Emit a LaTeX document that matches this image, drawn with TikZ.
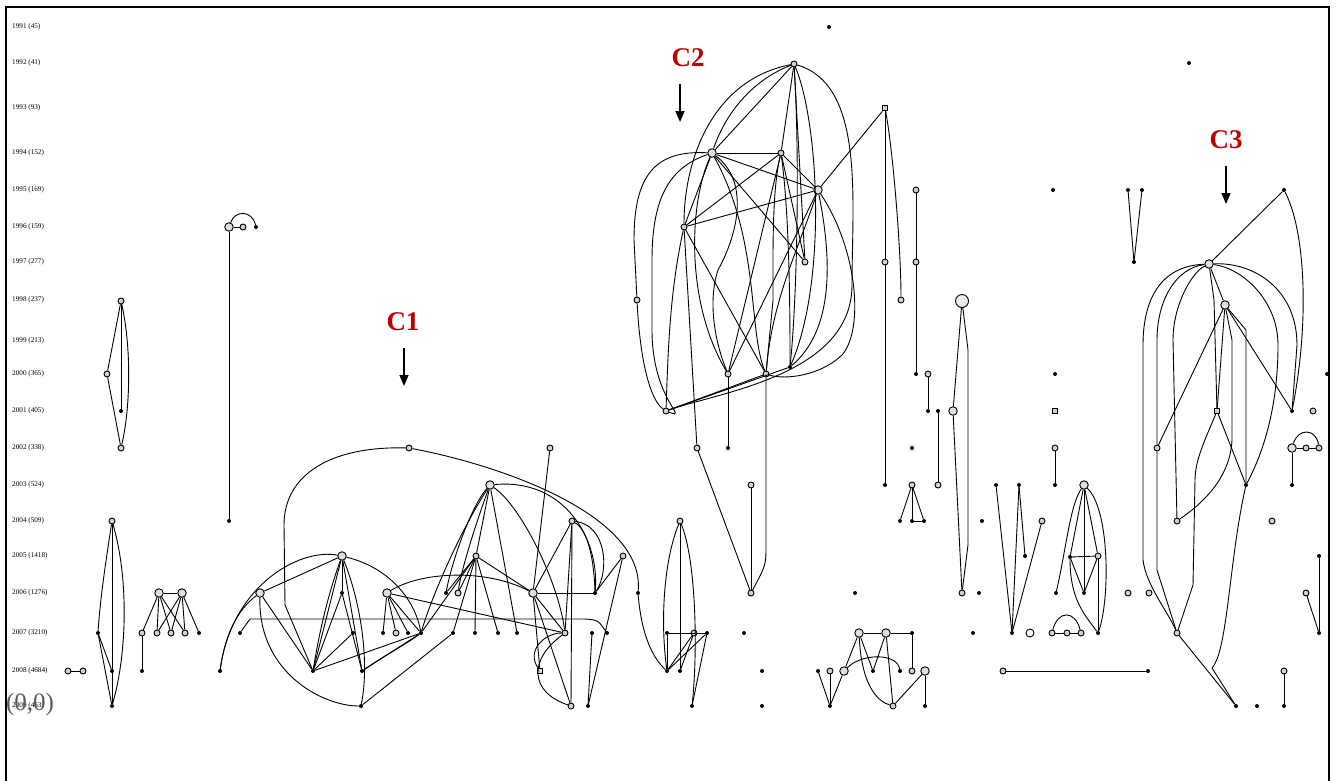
\documentclass[tikz,border=0pt]{standalone}
\usepackage{fontspec}
\setmainfont{Liberation Serif}
\usetikzlibrary{arrows.meta}
\definecolor{cred}{RGB}{192,0,0}
\begin{document}
\begin{tikzpicture}[x=1pt,y=-1pt,
  nd/.style={circle,draw,fill=gray!35,inner sep=0pt,minimum size=6pt,line width=0.9pt},
  bn/.style={circle,draw,fill=gray!25,inner sep=0pt,minimum size=8.5pt,line width=0.9pt},
  dt/.style={circle,fill=black,inner sep=0pt,minimum size=4pt},
  ed/.style={line width=0.9pt},
  yr/.style={font=\fontsize{7.2}{8}\selectfont,anchor=west,inner sep=0pt},
  clab/.style={font=\fontsize{27}{30}\selectfont\bfseries,text=cred,inner sep=0pt},
  carrow/.style={line width=1.6pt,-{Triangle[width=9pt,length=11pt]}}]
\useasboundingbox (0,0) rectangle (1336,780);
\draw[line width=1.5pt] (6,785) -- (6,7) -- (1329,7) -- (1329,785);

% year labels
\foreach \yy/\lab [count=\i] in {27/1991 (45),63/1992 (41),108/1993 (93),153/1994 (152),190/1995 (169),227/1996 (159),262/1997 (277),300/1998 (237),341/1999 (213),374/2000 (365),411/2001 (405),448/2002 (338),485/2003 (524),521/2004 (509),556/2005 (1418),593/2006 (1276),633/2007 (3210),671/2008 (4684),706/2009 (453)}
  \node[yr] (yl\i) at (12,\yy) {\lab};
\node[font=\fontsize{25}{27}\selectfont,text=black!65,inner sep=0pt] (orig) at (30,704) {(0,0)};

% cluster labels
\node[clab] (C1) at (403,322) {C1};
\coordinate (c1a) at (404,348); \coordinate (c1b) at (404,386);
\draw[carrow] (c1a) -- (c1b);
\node[clab] (C2) at (688,58) {C2};
\coordinate (c2a) at (680,84); \coordinate (c2b) at (680,122);
\draw[carrow] (c2a) -- (c2b);
\node[clab] (C3) at (1226,140) {C3};
\coordinate (c3a) at (1226,166); \coordinate (c3b) at (1226,204);
\draw[carrow] (c3a) -- (c3b);

% ---------- left groups ----------
\node[nd] (l1) at (121,301) {};
\node[nd] (l2) at (107,374) {};
\node[dt] (l3) at (121,411) {};
\node[nd] (l4) at (121,448) {};
\draw[ed] (l1) -- (l2); \draw[ed] (l2) -- (l4); \draw[ed] (l1) -- (l3);
\draw[ed] (l1) .. controls (131,345) and (131,405) .. (l4);
\node[bn] (v1) at (229,227) {};
\node[nd] (v2) at (243,227) {};
\node[dt] (v3) at (256,227) {};
\node[dt] (v4) at (229,521) {};
\draw[ed] (v1) -- (v4); \draw[ed] (v1) -- (v2);
\draw[ed] (v1) .. controls (235,210) and (252,210) .. (v3);
\node[nd] (m1) at (112,521) {};
\node[dt] (m2) at (98,633) {};
\node[dt] (m3) at (112,671) {};
\node[dt] (m4) at (112,706) {};
\draw[ed] (m1) -- (m4);
\draw[ed] (m1) .. controls (106,560) and (100,600) .. (m2);
\draw[ed] (m2) -- (m4); \draw[ed] (m2) -- (m3);
\draw[ed] (m1) .. controls (128,575) and (128,650) .. (m4);
\node[nd] (p1) at (68,671) {};
\node[nd] (p2) at (83,671) {};
\draw[ed] (p1) -- (p2);
\node[bn] (q1) at (159,593) {};
\node[bn] (q2) at (182,593) {};
\node[nd] (r1) at (142,633) {};
\node[nd] (r2) at (157,633) {};
\node[nd] (r3) at (171,633) {};
\node[nd] (r4) at (185,633) {};
\node[dt] (r5) at (199,633) {};
\node[dt] (r6) at (142,671) {};
\draw[ed] (q1) -- (q2); \draw[ed] (r1) -- (r6);
\foreach \t in {r1,r2,r3,r4} \draw[ed] (q1) -- (\t);
\foreach \t in {r2,r3,r4,r5} \draw[ed] (q2) -- (\t);

% ---------- C1 ----------
\node[nd] (c0) at (409,448) {};
\node[bn] (a1) at (342,556) {};
\node[bn] (a2) at (260,593) {};
\node[dt] (a3) at (342,593) {};
\node[bn] (a4) at (387,593) {};
\node[dt] (s1) at (220,671) {};
\node[dt] (s2) at (240,633) {};
\node[dt] (u1) at (313,671) {};
\node[dt] (u2) at (362,671) {};
\node[dt] (u3) at (361,706) {};
\node[dt] (w1) at (353,633) {};
\node[dt] (w2) at (383,633) {};
\node[nd] (w3) at (396,633) {};
\node[dt] (w4) at (408,633) {};
\node[dt] (w5) at (421,633) {};
\node[dt] (w6) at (453,633) {};
\node[dt] (w7) at (475,633) {};
\node[dt] (w8) at (498,633) {};
\node[dt] (w9) at (517,633) {};
\node[nd] (b1) at (476,556) {};
\node[bn] (b2) at (490,485) {};
\node[dt] (b3) at (446,593) {};
\node[nd] (b4) at (458,593) {};
\node[nd] (e1) at (550,448) {};
\node[nd] (e2) at (572,521) {};
\node[bn] (e3) at (533,593) {};
\node[dt] (e4) at (595,593) {};
\node[nd] (e5) at (623,556) {};
\node[dt] (e6) at (638,593) {};
\node[nd] (x1) at (565,633) {};
\node[dt] (x2) at (592,633) {};
\node[dt] (x3) at (607,633) {};
\node[nd,rectangle,minimum size=5.5pt] (y1) at (540,671) {};
\node[nd] (y2) at (571,706) {};
\node[dt] (y3) at (588,706) {};

\draw[ed] (c0) .. controls (330,446) and (284,475) .. (284,525) -- (285,605) -- (u1);
\draw[ed] (c0) .. controls (500,465) and (645,515) .. (e6);
\draw[ed] (s1) .. controls (232,585) and (300,548) .. (a1);
\draw[ed] (s1) .. controls (226,628) and (242,606) .. (a2);
\draw[ed] (s2) -- (250,619) -- (585,619) .. controls (598,620) .. (x3);
\draw[ed] (a2) -- (a1);
\draw[ed] (a2) -- (u1);
\draw[ed] (a2) .. controls (258,672) and (322,706) .. (u3);
\draw[ed] (a1) -- (u1);
\draw[ed] (a1) .. controls (326,600) and (318,640) .. (u1);
\draw[ed] (a1) -- (a3);
\draw[ed] (a1) -- (u2);
\draw[ed] (a1) .. controls (360,600) and (370,660) .. (u3);
\draw[ed] (a1) .. controls (390,568) and (415,600) .. (w5);
\draw[ed] (a3) -- (u1);
\draw[ed] (a3) -- (u2);
\draw[ed] (u1) -- (w5);
\draw[ed] (u1) -- (w1);
\draw[ed] (u2) -- (w5);
\draw[ed] (u2) .. controls (385,655) and (405,645) .. (w5);
\draw[ed] (u3) -- (w6);
\foreach \t in {w2,w3,w4,w5} \draw[ed] (a4) -- (\t);
\draw[ed] (a4) -- (x1);
\draw[ed] (a4) .. controls (420,572) and (485,568) .. (e3);
\draw[ed] (b2) .. controls (472,505) and (452,560) .. (b3);
\draw[ed] (b2) .. controls (480,512) and (462,565) .. (b4);
\draw[ed] (b2) .. controls (462,528) and (432,595) .. (w5);
\draw[ed] (b2) -- (b1);
\draw[ed] (b2) -- (w9);
\draw[ed] (b2) .. controls (520,505) and (558,580) .. (x1);
\draw[ed] (b2) .. controls (565,478) and (600,540) .. (e4);
\foreach \t in {b3,b4,w5,w6,w7,w8,e3} \draw[ed] (b1) -- (\t);
\draw[ed] (e1) -- (e3);
\draw[ed] (e3) -- (e4);
\draw[ed] (e3) -- (x1);
\draw[ed] (e3) -- (y2);
\draw[ed] (e3) -- (y1);
\draw[ed] (e2) -- (e3);
\draw[ed] (e2) -- (x1);
\draw[ed] (e2) .. controls (588,530) and (594,560) .. (e4);
\draw[ed] (e2) .. controls (606,525) and (610,570) .. (e4);
\draw[ed] (e2) -- (y2);
\draw[ed] (e5) -- (e4);
\draw[ed] (e5) -- (y3);
\draw[ed] (x2) -- (y3);
\draw[ed] (y1) .. controls (526,650) and (545,633) .. (x1);
\draw[ed] (x1) .. controls (528,660) and (530,692) .. (y2);

% ---------- C2 ----------
\node[nd] (t1) at (794,64) {};
\node[nd,rectangle,minimum size=5.5pt] (t2) at (885,108) {};
\node[bn] (h1) at (712,153) {};
\node[nd] (h2) at (781,153) {};
\node[bn] (h3) at (818,190) {};
\node[nd] (h4) at (684,227) {};
\node[nd] (h5) at (805,262) {};
\node[nd] (h6) at (885,262) {};
\node[nd] (h7) at (637,300) {};
\node[nd] (h8) at (901,300) {};
\node[nd] (k1) at (728,374) {};
\node[nd] (k2) at (766,374) {};
\node[dt] (k3) at (790,367) {};
\node[nd] (k4) at (666,411) {};
\node[nd] (k5) at (697,448) {};
\node[dt] (k6) at (728,448) {};
\node[nd] (k7) at (751,485) {};
\node[nd] (k8) at (751,593) {};
\node[dt] (k9) at (885,485) {};

\draw[ed] (t1) -- (h1);
\draw[ed] (t1) .. controls (748,82) and (724,118) .. (h1);
\draw[ed] (t1) .. controls (712,80) and (684,160) .. (h4);
\draw[ed] (t1) -- (h2);
\draw[ed] (t1) -- (h5);
\draw[ed] (t1) .. controls (800,160) and (797,300) .. (k3);
\draw[ed] (t1) .. controls (818,120) and (828,280) .. (k3);
\draw[ed] (t1) .. controls (865,85) and (852,200) .. (852,285) .. controls (852,375) and (720,392) .. (k4);
\draw[ed] (h1) -- (h2);
\draw[ed] (h1) -- (h3);
\draw[ed] (h1) -- (h5);
\draw[ed] (h1) -- (h4);
\draw[ed] (h1) .. controls (655,150) and (634,175) .. (634,240) -- (h7);
\draw[ed] (h7) .. controls (640,360) and (650,400) .. (k4);
\draw[ed] (h1) .. controls (668,168) and (652,200) .. (652,260) -- (652,330) .. controls (652,400) and (690,420) .. (k4);
\draw[ed] (h1) .. controls (690,200) and (684,300) .. (k1);
\draw[ed] (h1) .. controls (748,180) and (740,230) .. (718,270) .. controls (708,300) and (714,340) .. (k1);
\draw[ed] (h1) .. controls (760,240) and (748,330) .. (k2);
\draw[ed] (h4) -- (h3);
\draw[ed] (h4) -- (h2);
\draw[ed] (h4) -- (k2);
\draw[ed] (h4) -- (k5);
\draw[ed] (h4) .. controls (670,290) and (668,350) .. (k4);
\draw[ed] (h2) -- (h3);
\draw[ed] (h2) -- (k1);
\draw[ed] (h2) -- (h5);
\draw[ed] (h2) .. controls (790,220) and (790,320) .. (k3);
\draw[ed] (h2) .. controls (772,190) and (773,250) .. (773,300) -- (k2);
\draw[ed] (h3) -- (t2);
\draw[ed] (h3) -- (k1);
\draw[ed] (h3) .. controls (832,260) and (834,330) .. (k3);
\draw[ed] (h3) .. controls (858,250) and (864,330) .. (842,355) .. controls (820,376) and (785,380) .. (k2);
\draw[ed] (h3) .. controls (798,250) and (772,300) .. (k2);
\draw[ed] (k4) -- (k2);
\draw[ed] (k4) -- (k3);
\draw[ed] (k1) -- (k6);
\draw[ed] (k2) -- (766,545) .. controls (766,565) .. (k8);
\draw[ed] (k5) -- (k8);
\draw[ed] (k7) -- (k8);
\draw[ed] (t2) -- (h6) -- (k9);
\draw[ed] (t2) .. controls (893,150) and (901,250) .. (h8);

% lower middle
\node[nd] (f0) at (680,521) {};
\node[dt] (f1) at (667,671) {};
\node[dt] (f2) at (680,671) {};
\node[dt] (f3) at (692,706) {};
\node[dt] (g1) at (667,633) {};
\node[nd] (g2) at (694,633) {};
\node[dt] (g3) at (707,633) {};
\draw[ed] (e6) .. controls (642,640) and (655,660) .. (f1);
\draw[ed] (f0) .. controls (664,560) and (660,620) .. (f1);
\draw[ed] (f0) -- (f2);
\draw[ed] (f0) .. controls (696,560) and (698,650) .. (f3);
\draw[ed] (g1) -- (g3);
\draw[ed] (g1) -- (f1);
\draw[ed] (g2) -- (f1);
\draw[ed] (g3) -- (f1);
\draw[ed] (g3) -- (f3);
\draw[ed] (g2) -- (f2);
\node[dt] (iso1) at (744,633) {};
\node[dt] (iso2) at (762,671) {};
\node[dt] (iso3) at (762,706) {};
\node[dt] (iso4) at (855,593) {};
\node[dt] (iso5) at (829,27) {};
\node[dt] (iso6) at (1189,63) {};

\node[bn] (d1) at (859,633) {};
\node[bn] (d2) at (886,633) {};
\node[dt] (d3) at (912,633) {};
\node[nd] (d4) at (912,671) {};
\node[dt] (d5) at (900,671) {};
\node[bn] (d6) at (925,671) {};
\node[nd] (d7) at (893,706) {};
\node[dt] (d8) at (925,706) {};
\node[dt] (d9) at (873,671) {};
\node[dt] (d10) at (818,671) {};
\node[nd] (d11) at (830,671) {};
\node[bn] (d12) at (844,671) {};
\node[dt] (d13) at (830,706) {};
\draw[ed] (d1) -- (d2); \draw[ed] (d2) -- (d3); \draw[ed] (d3) -- (d4);
\draw[ed] (d1) -- (d12); \draw[ed] (d1) -- (d9); \draw[ed] (d2) -- (d9);
\draw[ed] (d1) .. controls (862,690) and (880,702) .. (d7);
\draw[ed] (d2) -- (d7);
\draw[ed] (d6) -- (d7); \draw[ed] (d6) -- (d8);
\draw[ed] (d10) -- (d13); \draw[ed] (d11) -- (d13); \draw[ed] (d12) -- (d13);
\draw[ed] (d12) .. controls (862,653) and (897,653) .. (d5);

% ---------- right middle ----------
\node[nd] (i1) at (916,190) {};
\node[nd] (i2) at (916,262) {};
\node[dt] (i3) at (916,374) {};
\node[nd] (i4) at (928,374) {};
\node[dt] (i5) at (928,411) {};
\node[dt] (i6) at (938,411) {};
\node[nd] (i7) at (938,485) {};
\node[circle,draw,fill=gray!15,inner sep=0pt,minimum size=13pt,line width=0.9pt] (i8) at (962,301) {};
\node[bn] (i9) at (953,411) {};
\node[nd] (i10) at (962,593) {};
\node[dt] (i11) at (912,448) {};
\node[dt] (i12) at (1053,190) {};
\node[dt] (i13) at (1055,374) {};
\node[nd,rectangle,minimum size=5.5pt] (i14) at (1055,411) {};
\node[nd] (i15) at (1055,448) {};
\node[dt] (i16) at (1055,485) {};
\draw[ed] (i1) -- (i2) -- (i3);
\draw[ed] (i4) -- (i5);
\draw[ed] (i6) -- (i7);
\draw[ed] (i8) -- (i9) -- (i10);
\draw[ed] (i8) -- (968,350) -- (968,545) -- (i10);
\draw[ed] (i15) -- (i16);
\node[nd] (j2) at (912,485) {};
\node[dt] (j3) at (900,521) {};
\node[dt] (j4) at (912,521) {};
\node[dt] (j5) at (924,521) {};
\draw[ed] (j2) -- (j3); \draw[ed] (j2) -- (j4); \draw[ed] (j2) -- (j5); \draw[ed] (j4) -- (j5);
\node[dt] (j6) at (982,521) {};
\node[dt] (j7) at (979,593) {};
\node[dt] (o1) at (996,485) {};
\node[dt] (o2) at (1019,485) {};
\node[nd] (o3) at (1042,521) {};
\node[dt] (o4) at (1025,556) {};
\node[dt] (o5) at (1012,633) {};
\draw[ed] (o1) -- (o5); \draw[ed] (o2) -- (o5); \draw[ed] (o2) -- (o4); \draw[ed] (o3) -- (o5);
\node[dt] (o6) at (973,633) {};
\node[circle,draw,fill=white,inner sep=0pt,minimum size=8pt,line width=0.9pt] (o7) at (1030,633) {};
\node[nd] (o8) at (1052,633) {};
\node[nd] (o9) at (1067,633) {};
\node[nd] (o10) at (1081,633) {};
\draw[ed] (o8) -- (o9) -- (o10);
\draw[ed] (o8) .. controls (1058,610) and (1075,610) .. (o10);
\node[bn] (z1) at (1084,485) {};
\node[dt] (z2) at (1070,557) {};
\node[nd] (z3) at (1098,556) {};
\node[dt] (z4) at (1056,593) {};
\node[dt] (z5) at (1084,593) {};
\node[dt] (z6) at (1098,633) {};
\draw[ed] (z1) .. controls (1070,505) and (1066,550) .. (z4);
\draw[ed] (z1) -- (z5); \draw[ed] (z1) -- (z2); \draw[ed] (z1) -- (z3);
\draw[ed] (z1) .. controls (1110,510) and (1110,600) .. (z6);
\draw[ed] (z2) -- (z3); \draw[ed] (z2) -- (z5); \draw[ed] (z3) -- (z5); \draw[ed] (z3) -- (z6);
\draw[ed] (z2) .. controls (1070,600) and (1085,615) .. (z6);
\node[nd] (z7) at (1149,593) {};
\node[nd] (n1) at (1003,671) {};
\node[dt] (n2) at (1148,671) {};
\draw[ed] (n1) -- (n2);

% ---------- C3 ----------
\node[dt] (cc1) at (1128,190) {};
\node[dt] (cc2) at (1142,190) {};
\node[dt] (cc3) at (1134,262) {};
\draw[ed] (cc1) -- (cc3); \draw[ed] (cc2) -- (cc3);
\node[dt] (g0) at (1284,190) {};
\node[bn] (H) at (1209,264) {};
\node[bn] (G) at (1225,305) {};
\node[nd,rectangle,minimum size=5.5pt] (g4) at (1217,411) {};
\node[dt] (g5) at (1292,411) {};
\node[nd] (g6) at (1313,411) {};
\node[nd] (g7) at (1157,448) {};
\node[bn] (g8) at (1292,448) {};
\node[nd] (g9) at (1306,448) {};
\node[nd] (g10) at (1319,448) {};
\node[dt] (g11) at (1292,485) {};
\node[dt] (g12) at (1246,485) {};
\node[nd] (g13) at (1177,521) {};
\node[nd] (g14) at (1272,521) {};
\node[nd] (g15) at (1128,593) {};
\node[nd] (g16) at (1306,593) {};
\node[dt] (g17) at (1319,556) {};
\node[dt] (g18) at (1319,633) {};
\node[nd] (g19) at (1177,633) {};
\node[nd] (g21) at (1284,671) {};
\node[dt] (g22) at (1284,706) {};
\node[dt] (g23) at (1236,706) {};
\node[dt] (g24) at (1257,706) {};
\node[dt] (g25) at (1327,374) {};
\draw[ed] (g0) -- (H);
\draw[ed] (g0) .. controls (1305,230) and (1310,320) .. (g5);
\draw[ed] (H) -- (G);
\draw[ed] (H) -- (1214,300) -- (g4);
\draw[ed] (H) .. controls (1160,266) and (1143,300) .. (1143,345) -- (1143,560) .. controls (1146,585) and (1168,612) .. (g19);
\draw[ed] (H) .. controls (1176,268) and (1157,300) .. (1157,340) -- (g7);
\draw[ed] (H) .. controls (1192,272) and (1173,305) .. (1173,340) -- (g13);
\draw[ed] (H) .. controls (1255,262) and (1297,290) .. (1297,345) -- (g5);
\draw[ed] (H) .. controls (1242,268) and (1278,300) .. (1278,345) .. controls (1278,410) and (1262,455) .. (g12);
\draw[ed] (G) -- (g7);
\draw[ed] (G) -- (g4);
\draw[ed] (G) -- (g5);
\draw[ed] (G) -- (1232,340) -- (1232,440) .. controls (1230,480) and (1200,505) .. (g13);
\draw[ed] (G) -- (1246,330) -- (g12);
\draw[ed] (g7) -- (1157,570) -- (g19);
\draw[ed] (g4) -- (g12);
\draw[ed] (g4) .. controls (1205,440) and (1195,460) .. (1195,480) -- (1193,585) -- (g19);
\draw[ed] (g12) .. controls (1229,560) and (1228,650) .. (1212,668) -- (g23);
\draw[ed] (g19) -- (g23);
\draw[ed] (g11) -- (g8);
\draw[ed] (g8) -- (g9) -- (g10);
\draw[ed] (g8) .. controls (1298,428) and (1316,428) .. (g10);
\draw[ed] (g16) -- (g18);
\draw[ed] (g17) -- (g18);
\draw[ed] (g21) -- (g22);
\end{tikzpicture}
\end{document}
